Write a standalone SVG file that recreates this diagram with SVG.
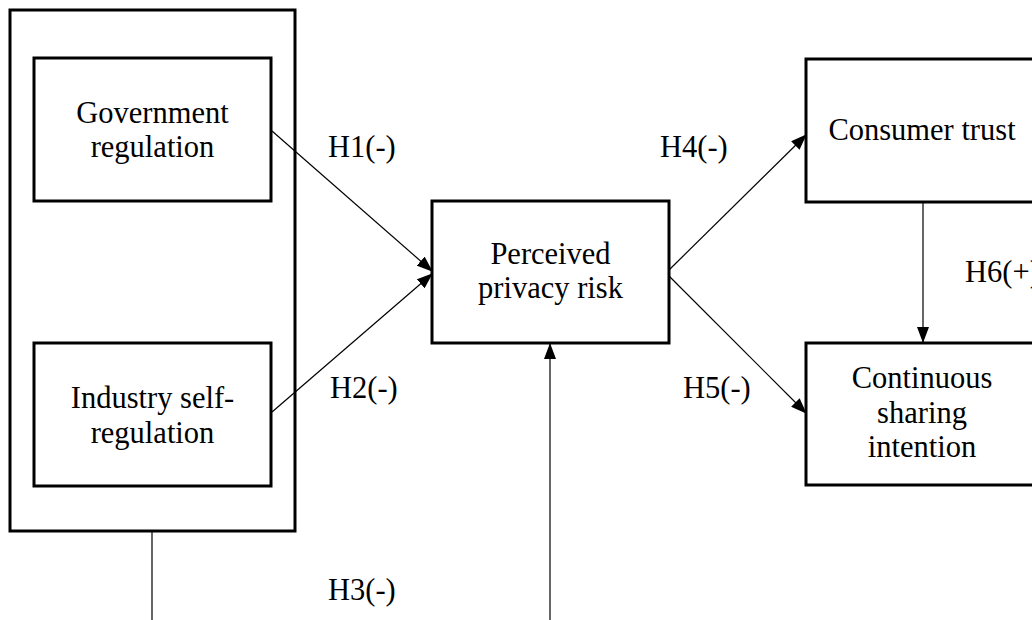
<svg xmlns="http://www.w3.org/2000/svg" width="1032" height="620" viewBox="0 0 1032 620">
<style>
.box{fill:#fff;stroke:#000;stroke-width:3}
.outer{fill:none;stroke:#000;stroke-width:3}
.t{font-family:"Liberation Serif","Times New Roman",serif;font-size:30.5px;fill:#000;text-anchor:middle}
.lbl{font-family:"Liberation Serif","Times New Roman",serif;font-size:30.5px;fill:#000}
.c{stroke:#000;stroke-width:1.2;fill:none}
</style>
<defs>
<marker id="ah" markerWidth="16" markerHeight="12" refX="15" refY="6" orient="auto" markerUnits="userSpaceOnUse">
<path d="M0,0 L16,6 L0,12 Z" fill="#000"/>
</marker>
</defs>
<rect width="1032" height="620" fill="#fff"/>
<g id="outer-group"><rect class="outer" x="10" y="10" width="285" height="521"/></g>
<g id="gov"><rect class="box" x="34" y="58" width="237" height="143"/>
<text class="t" x="152.5" y="123">Government</text><text class="t" x="152.5" y="157">regulation</text></g>
<g id="ind"><rect class="box" x="34" y="343" width="237" height="143"/>
<text class="t" x="152.5" y="408">Industry self-</text><text class="t" x="152.5" y="443">regulation</text></g>
<g id="risk"><rect class="box" x="432" y="201" width="237" height="142"/>
<text class="t" x="550.5" y="264">Perceived</text><text class="t" x="550.5" y="298">privacy risk</text></g>
<g id="trust"><rect class="box" x="806" y="59" width="240" height="143"/>
<text class="t" x="922" y="140">Consumer trust</text></g>
<g id="intent"><rect class="box" x="806" y="343" width="240" height="142"/>
<text class="t" x="922" y="388">Continuous</text><text class="t" x="922" y="423">sharing</text><text class="t" x="922" y="457">intention</text></g>
<g id="connectors">
<line class="c" x1="272" y1="131" x2="432" y2="271" marker-end="url(#ah)"/>
<line class="c" x1="272" y1="412" x2="432" y2="274" marker-end="url(#ah)"/>
<line class="c" x1="669" y1="270" x2="806" y2="135" marker-end="url(#ah)"/>
<line class="c" x1="669" y1="276" x2="806" y2="413" marker-end="url(#ah)"/>
<line class="c" x1="923" y1="202" x2="923" y2="342" marker-end="url(#ah)"/>
<line class="c" x1="152" y1="532" x2="152" y2="620"/>
<line class="c" x1="550" y1="620" x2="550" y2="344" marker-end="url(#ah)"/>
</g>
<g id="labels">
<text class="lbl" x="328" y="157">H1(-)</text>
<text class="lbl" x="330" y="398">H2(-)</text>
<text class="lbl" x="328" y="600">H3(-)</text>
<text class="lbl" x="660" y="157">H4(-)</text>
<text class="lbl" x="683" y="398">H5(-)</text>
<text class="lbl" x="965" y="282">H6(+)</text>
</g>
</svg>
